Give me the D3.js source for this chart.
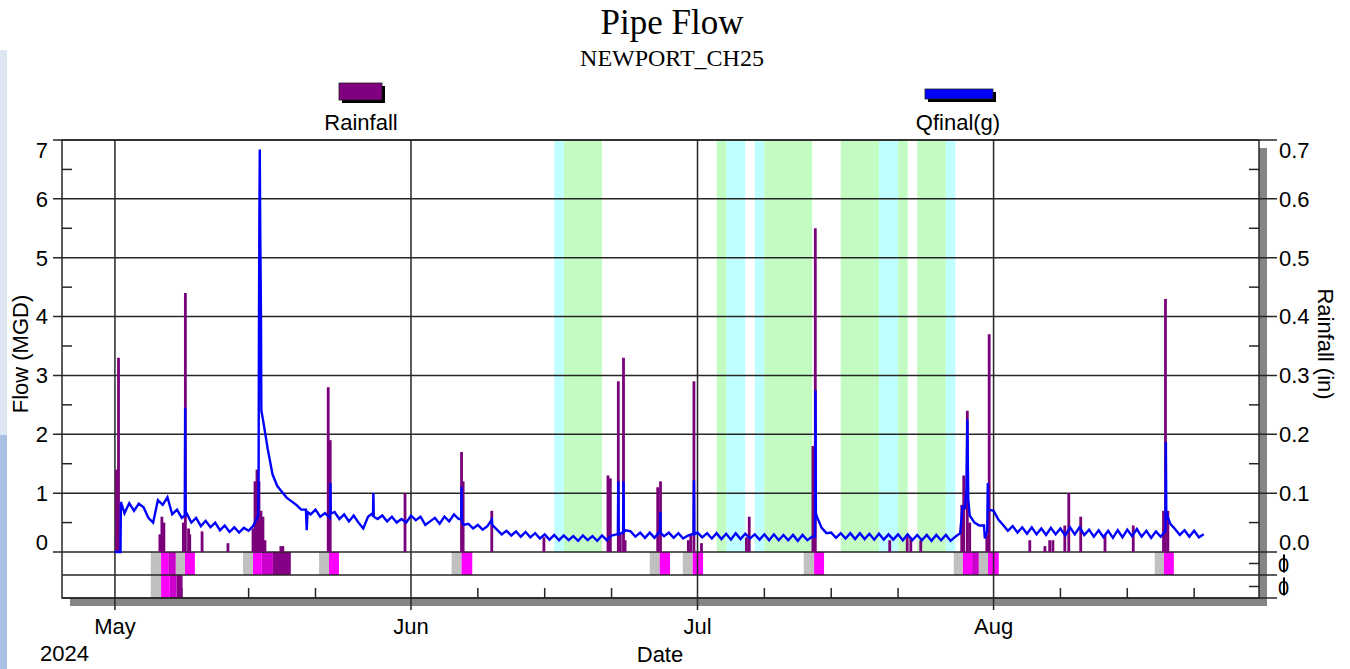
<!DOCTYPE html>
<html>
<head>
<meta charset="utf-8">
<title>Pipe Flow</title>
<script src="https://cdn.jsdelivr.net/npm/d3@7"></script>
<style>
    body { margin: 0; background: #fff; }
    #chart { width: 1350px; height: 669px; }
    text { font-family: "Liberation Sans", Arial, sans-serif; fill: #000; }
    .serif { font-family: "Liberation Serif", "Times New Roman", serif; }
</style>
</head>
<body>
<div id="chart"></div>
<script>
// flow, MGD, one value every 12 hours starting at flowStart
const flowStart = "2024-05-01T00:00";
const flowValues = [
    0, 0, 0.66, 0.83, 0.70, 0.82, 0.76, 0.58, 0.50, 0.88, 0.80, 0.93, 0.64, 0.72,
    0.58, 0.66, 0.50, 0.58, 0.44, 0.53, 0.42, 0.50, 0.37, 0.45, 0.34, 0.42, 0.33, 0.41,
    0.36, 0.45, 0.62, 2.25, 1.75, 1.32, 1.12, 1.02, 0.92, 0.86, 0.80, 0.72, 0.72, 0.64,
    0.72, 0.60, 0.66, 0.58, 0.68, 0.56, 0.64, 0.52, 0.62, 0.50, 0.40, 0.60, 0.66, 0.56,
    0.62, 0.52, 0.60, 0.50, 0.56, 0.50, 0.62, 0.54, 0.60, 0.46, 0.52, 0.58, 0.48, 0.60,
    0.52, 0.64, 0.56, 0.46, 0.48, 0.40, 0.46, 0.38, 0.44, 0.46, 0.38, 0.30, 0.36, 0.28,
    0.35, 0.26, 0.34, 0.25, 0.32, 0.23, 0.30, 0.21, 0.29, 0.20, 0.28, 0.20, 0.27, 0.19,
    0.28, 0.20, 0.27, 0.19, 0.28, 0.20, 0.28, 0.30, 0.32, 0.37, 0.35, 0.26, 0.33, 0.24,
    0.33, 0.24, 0.34, 0.27, 0.33, 0.24, 0.32, 0.23, 0.28, 0.31, 0.33, 0.25, 0.32, 0.23,
    0.32, 0.22, 0.31, 0.21, 0.32, 0.22, 0.31, 0.23, 0.30, 0.21, 0.30, 0.20, 0.30, 0.20,
    0.29, 0.20, 0.29, 0.19, 0.29, 0.20, 0.26, 0.60, 0.41, 0.32, 0.33, 0.24, 0.32, 0.23,
    0.32, 0.22, 0.32, 0.22, 0.31, 0.21, 0.31, 0.21, 0.30, 0.21, 0.30, 0.20, 0.30, 0.20,
    0.29, 0.20, 0.29, 0.19, 0.29, 0.20, 0.29, 0.19, 0.26, 0.32, 0.75, 0.62, 0.50, 0.45,
    0.45, 0.72, 0.70, 0.55, 0.46, 0.36, 0.44, 0.33, 0.42, 0.31, 0.42, 0.30, 0.40, 0.29,
    0.41, 0.30, 0.40, 0.28, 0.42, 0.30, 0.42, 0.29, 0.38, 0.26, 0.37, 0.25, 0.36, 0.24,
    0.37, 0.25, 0.38, 0.27, 0.39, 0.26, 0.36, 0.24, 0.35, 0.26, 0.36, 0.48, 0.39, 0.29,
    0.37, 0.26, 0.36, 0.25, 0.30
];
// short storm peaks between the 12 hour samples
const flowPeaks = [
    ["2024-05-01T14:00", 0], ["2024-05-01T15:00", 0.85],
    ["2024-05-08T07:30", 0.62], ["2024-05-08T08:30", 2.45], ["2024-05-08T09:30", 0.62],
    ["2024-05-16T01:00", 1.2], ["2024-05-16T02:00", 4.0], ["2024-05-16T03:00", 5.66], ["2024-05-16T04:00", 6.84],
    ["2024-05-16T05:00", 5.66], ["2024-05-16T07:00", 4.0], ["2024-05-16T08:00", 2.4],
    ["2024-05-21T02:00", 0.37], ["2024-05-21T04:00", 0.68],
    ["2024-05-23T12:30", 0.66], ["2024-05-23T13:30", 1.17], ["2024-05-23T14:30", 0.65],
    ["2024-05-28T00:30", 0.6], ["2024-05-28T01:30", 1.0], ["2024-05-28T02:30", 0.6],
    ["2024-06-06T06:00", 0.56], ["2024-06-06T07:00", 1.11], ["2024-06-06T08:00", 0.52],
    ["2024-06-09T11:00", 0.55],
    ["2024-06-22T16:00", 0.3], ["2024-06-22T17:00", 1.2], ["2024-06-22T18:00", 0.3],
    ["2024-06-23T05:00", 0.33], ["2024-06-23T06:00", 1.2], ["2024-06-23T07:00", 0.34],
    ["2024-06-27T01:30", 0.32], ["2024-06-27T02:30", 0.68], ["2024-06-27T03:30", 0.32],
    ["2024-06-30T14:00", 0.3], ["2024-06-30T15:00", 1.22], ["2024-06-30T16:00", 0.3],
    ["2024-07-13T07:30", 0.26], ["2024-07-13T08:30", 2.75], ["2024-07-13T09:30", 0.66],
    ["2024-07-28T18:00", 0.77], ["2024-07-29T03:30", 1.0], ["2024-07-29T06:00", 2.25], ["2024-07-29T08:30", 0.9],
    ["2024-07-31T02:00", 0.23], ["2024-07-31T08:00", 0.35], ["2024-07-31T09:30", 1.17], ["2024-07-31T11:00", 0.7],
    ["2024-08-19T01:00", 1.87], ["2024-08-19T02:00", 0.71], ["2024-08-19T05:00", 0.6]
];

// hourly rainfall, inches
const rainfall = [
    ["2024-05-01T04:00", 0.14], ["2024-05-01T09:00", 0.33],
    ["2024-05-05T17:00", 0.03], ["2024-05-05T22:00", 0.06], ["2024-05-06T03:00", 0.05],
    ["2024-05-08T04:00", 0.05], ["2024-05-08T09:00", 0.44], ["2024-05-08T17:00", 0.04], ["2024-05-08T20:00", 0.03],
    ["2024-05-10T03:00", 0.035], ["2024-05-12T20:00", 0.015],
    ["2024-05-15T11:00", 0.04], ["2024-05-15T16:00", 0.12], ["2024-05-15T21:00", 0.14], ["2024-05-16T02:00", 0.12],
    ["2024-05-16T07:00", 0.07], ["2024-05-16T12:00", 0.06], ["2024-05-16T17:00", 0.02],
    ["2024-05-18T09:00", 0.01], ["2024-05-18T14:00", 0.01],
    ["2024-05-23T08:00", 0.28], ["2024-05-23T13:00", 0.19],
    ["2024-05-31T09:00", 0.10],
    ["2024-06-06T07:00", 0.17], ["2024-06-06T11:00", 0.12],
    ["2024-06-09T11:00", 0.07], ["2024-06-14T22:00", 0.025],
    ["2024-06-21T15:00", 0.13], ["2024-06-21T21:00", 0.125],
    ["2024-06-22T17:00", 0.29], ["2024-06-22T22:00", 0.03], ["2024-06-23T06:00", 0.33], ["2024-06-23T10:00", 0.02],
    ["2024-06-26T20:00", 0.11], ["2024-06-27T03:00", 0.12],
    ["2024-06-30T01:00", 0.02], ["2024-06-30T07:00", 0.03], ["2024-06-30T15:00", 0.29],
    ["2024-07-01T10:00", 0.015],
    ["2024-07-06T03:00", 0.025], ["2024-07-06T10:00", 0.06],
    ["2024-07-13T02:00", 0.18], ["2024-07-13T08:00", 0.55],
    ["2024-07-21T03:00", 0.02], ["2024-07-22T23:00", 0.03], ["2024-07-23T08:00", 0.025], ["2024-07-24T09:00", 0.02],
    ["2024-07-28T16:00", 0.08], ["2024-07-28T21:00", 0.13], ["2024-07-29T06:00", 0.24], ["2024-07-29T12:00", 0.05],
    ["2024-07-31T07:00", 0.03], ["2024-07-31T13:00", 0.37],
    ["2024-08-04T19:00", 0.02], ["2024-08-06T09:00", 0.01], ["2024-08-06T21:00", 0.02], ["2024-08-07T05:00", 0.02],
    ["2024-08-08T11:00", 0.045], ["2024-08-08T21:00", 0.10], ["2024-08-10T03:00", 0.06],
    ["2024-08-12T16:00", 0.03], ["2024-08-15T15:00", 0.045],
    ["2024-08-18T19:00", 0.07], ["2024-08-19T00:00", 0.43], ["2024-08-19T06:00", 0.07]
];

// shaded periods in the background
const cyanPeriods = [
    ["2024-06-16T00:00", "2024-06-17T00:00"], ["2024-07-04T00:00", "2024-07-06T00:00"],
    ["2024-07-07T00:00", "2024-07-08T00:00"], ["2024-07-20T00:00", "2024-07-22T00:00"],
    ["2024-07-27T00:00", "2024-07-28T00:00"]
];
const greenPeriods = [
    ["2024-06-17T00:00", "2024-06-21T00:00"], ["2024-07-03T00:00", "2024-07-04T00:00"],
    ["2024-07-08T00:00", "2024-07-13T00:00"], ["2024-07-16T00:00", "2024-07-20T00:00"],
    ["2024-07-22T00:00", "2024-07-23T00:00"], ["2024-07-24T00:00", "2024-07-27T00:00"]
];

// event strips under the plot: start, end, level (0 = lead-in, 1..3 = intensity)
const eventsRow1 = [
    ["2024-05-04T18:00", "2024-05-05T20:00", 0], ["2024-05-05T20:00", "2024-05-06T14:00", 1],
    ["2024-05-06T14:00", "2024-05-07T09:00", 2], ["2024-05-07T09:00", "2024-05-08T08:00", 0],
    ["2024-05-08T08:00", "2024-05-09T09:00", 1],
    ["2024-05-14T10:00", "2024-05-15T11:00", 0], ["2024-05-15T11:00", "2024-05-16T09:00", 1],
    ["2024-05-16T09:00", "2024-05-17T13:00", 2], ["2024-05-17T13:00", "2024-05-19T10:00", 3],
    ["2024-05-22T09:00", "2024-05-23T10:00", 0], ["2024-05-23T10:00", "2024-05-24T11:00", 1],
    ["2024-06-05T06:00", "2024-06-06T07:00", 0], ["2024-06-06T07:00", "2024-06-07T10:00", 1],
    ["2024-06-26T00:00", "2024-06-27T01:00", 0], ["2024-06-27T01:00", "2024-06-28T03:00", 1],
    ["2024-06-29T11:00", "2024-06-30T12:00", 0], ["2024-06-30T12:00", "2024-07-01T14:00", 1],
    ["2024-07-12T03:00", "2024-07-13T05:00", 0], ["2024-07-13T05:00", "2024-07-14T06:00", 1],
    ["2024-07-27T20:00", "2024-07-28T19:00", 0], ["2024-07-28T19:00", "2024-07-29T18:00", 1],
    ["2024-07-29T18:00", "2024-07-30T11:00", 2], ["2024-07-30T11:00", "2024-07-31T10:00", 0],
    ["2024-07-31T10:00", "2024-08-01T13:00", 1],
    ["2024-08-17T21:00", "2024-08-18T20:00", 0], ["2024-08-18T20:00", "2024-08-19T21:00", 1]
];
const eventsRow2 = [
    ["2024-05-04T18:00", "2024-05-05T20:00", 0], ["2024-05-05T20:00", "2024-05-06T18:00", 1],
    ["2024-05-06T18:00", "2024-05-07T11:00", 2], ["2024-05-07T11:00", "2024-05-08T02:00", 3]
];

const monthStarts = ["2024-05-01T00:00", "2024-06-01T00:00", "2024-07-01T00:00", "2024-08-01T00:00"];
const monthLabels = ["May", "Jun", "Jul", "Aug"];
const weekTickDays = [8, 15, 22];
const flowTicks = [0, 1, 2, 3, 4, 5, 6, 7];
const rainTicks = [0, 0.1, 0.2, 0.3, 0.4, 0.5, 0.6, 0.7];
const xDomain = ["2024-04-25T11:00", "2024-08-28T19:00"];

class PipeFlowVis {
    constructor(parentElement) {
        this.parentElement = parentElement;
        this.initVis();
    }

    initVis() {
        let vis = this;
        const parse = d3.timeParse("%Y-%m-%dT%H:%M");
        vis.parse = parse;

        vis.left = 62; vis.right = 1259; vis.top = 140; vis.zero = 552;
        vis.rowH = 23;
        vis.bottom = vis.zero + 2 * vis.rowH;

        vis.svg = d3.select(vis.parentElement).append("svg")
            .attr("width", 1350)
            .attr("height", 669);

        vis.x = d3.scaleTime().domain(xDomain.map(parse)).range([vis.left, vis.right]);
        vis.y = d3.scaleLinear().domain([0, 7]).range([vis.zero, vis.top]);
        vis.yRain = d3.scaleLinear().domain([0, 0.7]).range([vis.zero, vis.top]);
        vis.levelColor = d3.scaleOrdinal([0, 1, 2, 3], ["#c0c0c0", "#ff00ff", "#cc00cc", "#860086"]);

        vis.wrangleData();
    }

    wrangleData() {
        let vis = this;
        const t0 = vis.parse(flowStart);
        vis.flow = flowValues.map((v, i) => ({t: d3.timeHour.offset(t0, 12 * i), v: v}))
            .concat(flowPeaks.map(d => ({t: vis.parse(d[0]), v: d[1]})))
            .sort((a, b) => a.t - b.t);
        vis.rain = rainfall.map(d => ({t: vis.parse(d[0]), v: d[1]}));
        vis.weekTicks = [];
        monthStarts.forEach(m => {
            const d = vis.parse(m);
            weekTickDays.forEach(day => vis.weekTicks.push(new Date(d.getFullYear(), d.getMonth(), day)));
        });
        vis.updateVis();
    }

    updateVis() {
        let vis = this;
        const svg = vis.svg, x = vis.x, y = vis.y;
        const line = "#262626";

        // page decoration at the left edge
        svg.append("rect").attr("x", 0).attr("y", 50).attr("width", 7).attr("height", 385).attr("fill", "#dde6f3");
        svg.append("rect").attr("x", 0).attr("y", 435).attr("width", 7).attr("height", 234).attr("fill", "#abc1e3");

        // titles
        svg.append("text").attr("class", "serif").attr("x", 672).attr("y", 34)
            .attr("text-anchor", "middle").style("font-size", "35px").text("Pipe Flow");
        svg.append("text").attr("class", "serif").attr("x", 672).attr("y", 66)
            .attr("text-anchor", "middle").style("font-size", "24px").text("NEWPORT_CH25");

        // legend
        const legend = [
            {label: "Rainfall", cx: 361, sx: 339, sy: 83, w: 43, h: 17, color: "#800080"},
            {label: "Qfinal(g)", cx: 958, sx: 925, sy: 89, w: 68, h: 10, color: "#0000ff"}
        ];
        legend.forEach(l => {
            svg.append("rect").attr("x", l.sx + 3).attr("y", l.sy + 3).attr("width", l.w).attr("height", l.h).attr("fill", "#000");
            svg.append("rect").attr("x", l.sx).attr("y", l.sy).attr("width", l.w).attr("height", l.h)
                .attr("fill", l.color).attr("stroke", "#222").attr("stroke-width", 0.8);
            svg.append("text").attr("x", l.cx).attr("y", 130).attr("text-anchor", "middle")
                .style("font-size", "22px").text(l.label);
        });

        // drop shadow of the frame
        svg.append("rect").attr("x", vis.right).attr("y", vis.top + 8).attr("width", 8)
            .attr("height", vis.bottom - vis.top).attr("fill", "#858585");
        svg.append("rect").attr("x", vis.left + 8).attr("y", vis.bottom).attr("width", vis.right - vis.left)
            .attr("height", 8).attr("fill", "#858585");

        // background periods
        const bands = svg.append("g");
        bands.selectAll(".cyan").data(cyanPeriods).join("rect")
            .attr("x", d => x(vis.parse(d[0]))).attr("width", d => x(vis.parse(d[1])) - x(vis.parse(d[0])))
            .attr("y", vis.top).attr("height", vis.zero - vis.top).attr("fill", "#c0ffff");
        bands.selectAll(".green").data(greenPeriods).join("rect")
            .attr("x", d => x(vis.parse(d[0]))).attr("width", d => x(vis.parse(d[1])) - x(vis.parse(d[0])))
            .attr("y", vis.top).attr("height", vis.zero - vis.top).attr("fill", "#c2fcc2");

        // weekly ticks on the bottom
        svg.append("g").selectAll("line").data(vis.weekTicks).join("line")
            .attr("x1", d => x(d)).attr("x2", d => x(d))
            .attr("y1", vis.bottom - 10).attr("y2", vis.bottom)
            .attr("stroke", line).attr("stroke-width", 1.5);

        // event strips
        [eventsRow1, eventsRow2].forEach((rows, r) => {
            svg.append("g").selectAll("rect").data(rows).join("rect")
                .attr("x", d => x(vis.parse(d[0])))
                .attr("width", d => x(vis.parse(d[1])) - x(vis.parse(d[0])))
                .attr("y", vis.zero + r * vis.rowH)
                .attr("height", vis.rowH)
                .attr("fill", d => vis.levelColor(d[2]));
        });

        // horizontal grid and ticks
        const grid = svg.append("g").attr("stroke", line).attr("stroke-width", 1.5);
        grid.selectAll(".h").data(flowTicks).join("line")
            .attr("x1", 53).attr("x2", 1277)
            .attr("y1", d => y(d)).attr("y2", d => y(d));
        [vis.zero + vis.rowH, vis.bottom].forEach(yy => {
            grid.append("line").attr("x1", vis.left).attr("x2", 1277).attr("y1", yy).attr("y2", yy);
        });
        const halves = flowTicks.slice(0, -1).map(d => d + 0.5);
        grid.selectAll(".ml").data(halves).join("line")
            .attr("x1", vis.left).attr("x2", vis.left + 10).attr("y1", d => y(d)).attr("y2", d => y(d));
        grid.selectAll(".mr").data(halves).join("line")
            .attr("x1", vis.right - 10).attr("x2", vis.right).attr("y1", d => y(d)).attr("y2", d => y(d));
        [0, 1].forEach(r => {
            const yy = vis.zero + r * vis.rowH + vis.rowH / 2;
            grid.append("line").attr("x1", vis.right - 10).attr("x2", vis.right).attr("y1", yy).attr("y2", yy);
        });

        // month lines
        grid.selectAll(".v").data(monthStarts).join("line")
            .attr("x1", d => x(vis.parse(d))).attr("x2", d => x(vis.parse(d)))
            .attr("y1", vis.top).attr("y2", vis.bottom + 12);

        // frame
        svg.append("rect").attr("x", vis.left).attr("y", vis.top)
            .attr("width", vis.right - vis.left).attr("height", vis.bottom - vis.top)
            .attr("fill", "none").attr("stroke", line).attr("stroke-width", 1.5);

        // rainfall bars
        svg.append("g").selectAll("rect").data(vis.rain).join("rect")
            .attr("x", d => x(d.t) - 1.4)
            .attr("width", 2.8)
            .attr("y", d => vis.yRain(d.v))
            .attr("height", d => vis.zero - vis.yRain(d.v))
            .attr("fill", "#7a007a");

        // flow line
        svg.append("path").datum(vis.flow)
            .attr("fill", "none")
            .attr("stroke", "#0000ff")
            .attr("stroke-width", 2.4)
            .attr("stroke-linejoin", "miter")
            .attr("d", d3.line().x(d => x(d.t)).y(d => y(d.v)));

        // tick labels, the end ones are kept inside the frame
        const clampY = v => Math.min(Math.max(v, vis.top + 10), vis.zero - 10);
        svg.append("g").selectAll("text").data(flowTicks).join("text")
            .attr("x", 48).attr("y", d => clampY(y(d))).attr("dy", "0.36em")
            .attr("text-anchor", "end").style("font-size", "22px").text(d => d);
        svg.append("g").selectAll("text").data(rainTicks).join("text")
            .attr("x", 1279).attr("y", d => clampY(vis.yRain(d))).attr("dy", "0.36em")
            .style("font-size", "22px").text(d => d3.format(".1f")(d));
        // strip labels: a struck-through zero, as printed on the original
        [0, 1].forEach(r => {
            const yy = vis.zero + r * vis.rowH + vis.rowH / 2 + 1;
            svg.append("text").attr("x", 1278).attr("y", yy).attr("dy", "0.36em").style("font-size", "20px").text("0");
            svg.append("line").attr("x1", 1284).attr("x2", 1284).attr("y1", yy - 10).attr("y2", yy + 8)
                .attr("stroke", "#000").attr("stroke-width", 2);
        });

        svg.append("g").selectAll("text").data(monthStarts).join("text")
            .attr("x", d => x(vis.parse(d))).attr("y", 634)
            .attr("text-anchor", "middle").style("font-size", "22px")
            .text((d, i) => monthLabels[i]);
        svg.append("text").attr("x", 40).attr("y", 661).style("font-size", "22px").text("2024");
        svg.append("text").attr("x", 660).attr("y", 662).attr("text-anchor", "middle").style("font-size", "22px").text("Date");

        // axis titles
        svg.append("text").attr("transform", "translate(28,354) rotate(-90)")
            .attr("text-anchor", "middle").style("font-size", "22px").text("Flow (MGD)");
        svg.append("text").attr("transform", "translate(1318,344) rotate(90)")
            .attr("text-anchor", "middle").style("font-size", "22px").text("Rainfall (in)");
    }
}

new PipeFlowVis(document.getElementById("chart"));
</script>
</body>
</html>
